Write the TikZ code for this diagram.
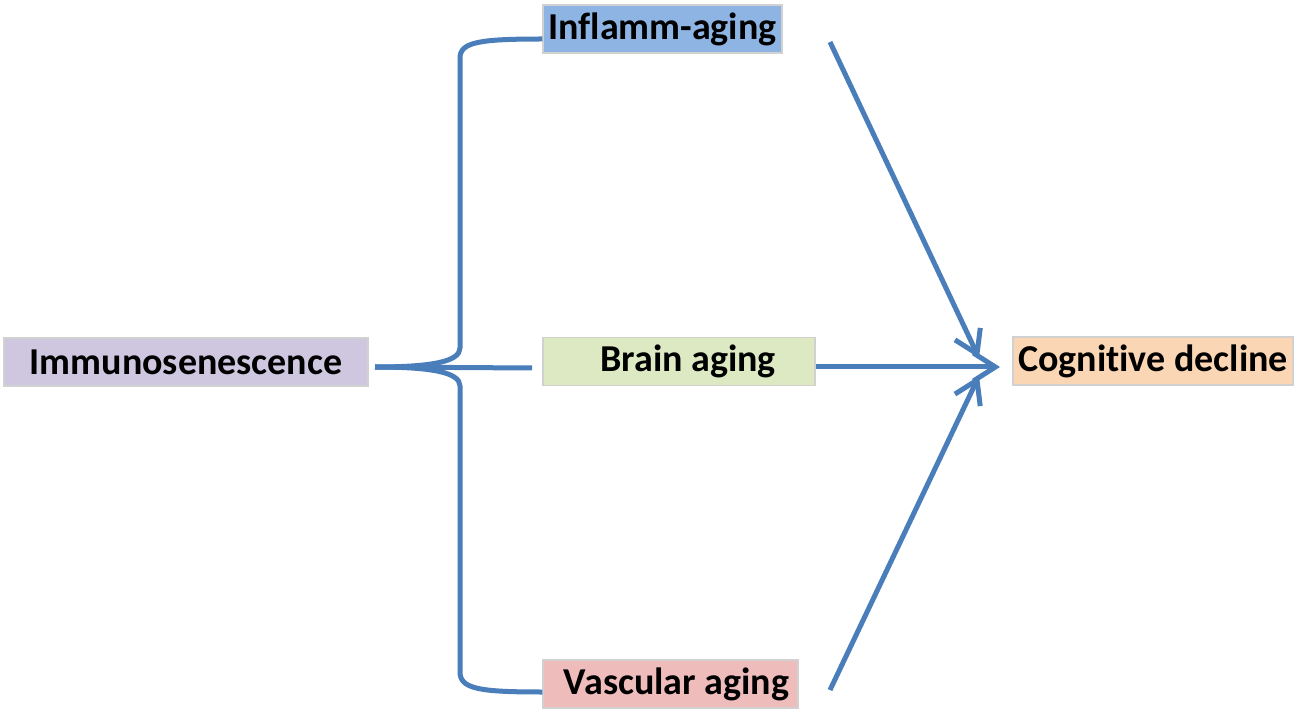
\documentclass[tikz,border=0pt]{standalone}
\usepackage{fontspec}
\setmainfont{Carlito}[Ligatures=NoCommon]
\usetikzlibrary{arrows.meta}
\definecolor{lineblue}{HTML}{4A7EBB}
\definecolor{cimm}{HTML}{CFC6E0}
\definecolor{cinf}{HTML}{8EB4E3}
\definecolor{cbrain}{HTML}{DCE9C3}
\definecolor{cvasc}{HTML}{EDBCBB}
\definecolor{ccog}{HTML}{FBD6B4}
\tikzset{
  box/.style={inner sep=0pt, minimum height=24pt, draw=black!18, line width=0.6pt,
    font=\fontsize{19}{23}\selectfont\bfseries, text=black, anchor=center},
  conn/.style={draw=lineblue, line width=2.5pt},
  arr/.style={conn, -{Straight Barb[length=11pt,width=14pt,line width=2.5pt]}},
}
\begin{document}
\begin{tikzpicture}[x=0.5pt,y=-0.5pt]
\useasboundingbox (0,0) rectangle (1300,716);
\node[box, fill=cimm, minimum width=182pt] (immuno) at (186,362) {Immunosenescence};
\node[box, fill=cinf, minimum width=119.5pt] (inflamm) at (662.5,29) {Inflamm-aging};
\node[box, fill=cbrain, minimum width=136pt] (brain) at (679,361.5) {\hspace{9pt}Brain aging};
\node[box, fill=cvasc, minimum width=127.5pt] (vasc) at (670.5,684) {\hspace{6pt}Vascular aging};
\node[box, fill=ccog, minimum width=140pt] (cog) at (1153,361) {Cognitive decline};
% brace
\coordinate (tip) at (375,367);
\coordinate (bbr) at (532,368);
\draw[conn] (inflamm.west |- 0,39) .. controls (480,39) and (460,42) .. (460,58)
  -- (460,348) .. controls (460,362) and (430,367) .. (tip);
\draw[conn] (vasc.west |- 0,692) .. controls (480,692) and (460,689) .. (460,672)
  -- (460,386) .. controls (460,372) and (430,367) .. (tip);
\draw[conn] (tip) -- (bbr);
% arrows
\coordinate (a1) at (830,42);
\coordinate (a3) at (830,690);
\coordinate (t1) at (979,358);
\coordinate (t3) at (979,376);
\draw[arr] (a1) -- (t1);
\draw[arr] (a3) -- (t3);
\draw[arr] (brain.east |- 0,367) -- (1000,367);
\end{tikzpicture}
\end{document}
